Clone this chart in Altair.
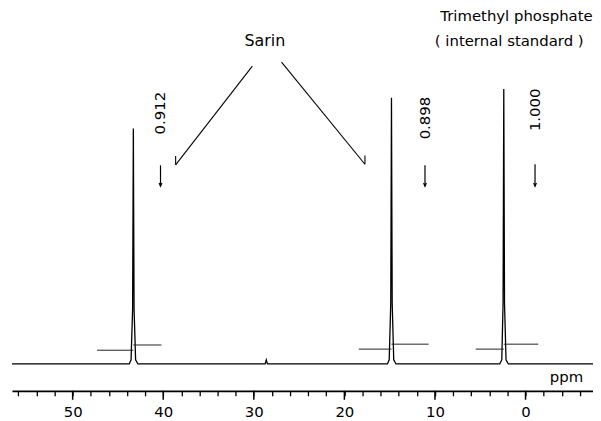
import altair as alt
import pandas as pd

# --- spectrum trace: chemical shift (ppm) and relative intensity (TMP peak = 100)
spec_ppm = [56.7, 43.75, 43.55, 43.38, 43.3, 43.22, 43.05, 42.8,
            28.75, 28.62, 28.5,
            15.25, 15.05, 14.88, 14.8, 14.72, 14.55, 14.3,
            2.85, 2.62, 2.48, 2.4, 2.32, 2.15, 1.9, -7.45]
spec_int = [0, 0, 1.5, 20, 85.6, 20, 1.5, 0,
            0, 1.5, 0,
            0, 1.5, 22, 96.8, 22, 1.5, 0,
            0, 1.5, 22, 100, 22, 1.5, 0, 0]

# --- integral step traces (start ppm, end ppm, level)
integ_start = [47.3, 43.3, 18.4, 14.8, 5.5, 2.4]
integ_end = [43.3, 40.2, 14.8, 10.7, 2.4, -1.4]
integ_level = [5.0, 6.9, 5.4, 7.2, 5.4, 7.2]

# --- relative integral values
ratio_text = ["0.912", "0.898", "1.000"]
ratio_ppm = [40.3, 11.1, -1.05]
ratio_level = [91.2, 89.4, 92.4]

# --- axis ticks
tick_values = [56, 54, 52, 50, 48, 46, 44, 42, 40, 38, 36, 34, 32, 30, 28, 26, 24,
               22, 20, 18, 16, 14, 12, 10, 8, 6, 4, 2, 0, -2, -4, -6]
major_ticks = [50, 40, 30, 20, 10, 0]

# --- Sarin pointer lines
sarin_x = [30.16, 26.94]
sarin_y = [108.3, 109.7]
sarin_x2 = [38.63, 17.73]
sarin_y2 = [72.4, 72.6]
sarin_head_top = [75.6, 75.8]

FONT = "DejaVu Sans"
XDOM = [56.7, -7.45]
YDOM = [-9.75, 128.9]
H = 384

spec = pd.DataFrame({"ppm": spec_ppm, "i": spec_int, "o": list(range(len(spec_ppm)))})
integ = pd.DataFrame({"ppm": integ_start, "ppm2": integ_end, "i": integ_level})
ratios = pd.DataFrame({"ppm": ratio_ppm, "i": ratio_level, "t": ratio_text})
arrows = pd.DataFrame({"ppm": ratio_ppm, "top": [72.2, 72.2, 72.6], "bot": [64.6, 64.6, 64.6]})
sarin = pd.DataFrame({"ppm": sarin_x, "i": sarin_y, "ppm2": sarin_x2, "i2": sarin_y2,
                      "head": sarin_head_top})
majors = pd.DataFrame({"ppm": major_ticks})

xscale = alt.Scale(domain=XDOM, nice=False, zero=False)
yscale = alt.Scale(domain=YDOM, nice=False, zero=False)

xaxis = alt.Axis(
    values=tick_values,
    labelExpr="datum.value % 10 === 0 ? datum.label : ''",
    tickSize=5,
    domainWidth=1.7, domainColor="black", tickColor="black", tickWidth=1.3,
    labelFont=FONT, labelFontSize=15, labelColor="black", labelPadding=9,
    labelFlush=False, labelOverlap=False, grid=False, title=None,
)

X = alt.X("ppm:Q", scale=xscale, axis=xaxis)
Y = alt.Y("i:Q", scale=yscale, axis=None)

line = alt.Chart(spec).mark_line(color="black", strokeWidth=1.3).encode(
    x=X, y=Y, order="o:Q")

integ_l = alt.Chart(integ).mark_rule(color="#222", strokeWidth=1).encode(
    x=X, x2="ppm2:Q", y=Y)

major_l = alt.Chart(majors).mark_rule(color="black", strokeWidth=1.5).encode(
    x=X, y=alt.value(H), y2=alt.value(H + 9))

ratio_t = alt.Chart(ratios).mark_text(
    angle=270, font=FONT, fontSize=15, color="black", align="center", baseline="middle"
).encode(x=X, y=Y, text="t:N")

arrow_shaft = alt.Chart(arrows).mark_rule(color="black", strokeWidth=1.2).encode(
    x=X, y=alt.Y("top:Q", scale=yscale, axis=None), y2="bot:Q")
arrow_head = alt.Chart(arrows).mark_point(
    shape="M -0.7 -1.7 L 0 0 L 0.7 -1.7", filled=False, color="black",
    strokeWidth=1.2, size=16, opacity=1
).encode(x=X, y=alt.Y("bot:Q", scale=yscale, axis=None))

sarin_lines = alt.Chart(sarin).mark_rule(color="black", strokeWidth=1.1).encode(
    x=X, y=Y, x2="ppm2:Q", y2="i2:Q")
sarin_heads = alt.Chart(sarin).mark_rule(color="black", strokeWidth=1.1).encode(
    x=alt.X("ppm2:Q", scale=xscale, axis=xaxis), y=alt.Y("i2:Q", scale=yscale, axis=None),
    y2="head:Q")

texts = pd.DataFrame({
    "ppm": [28.77, 1.0, 1.8, -6.36],
    "i": [117.3, 126.5, 117.3, -6.5],
    "t": ["Sarin", "Trimethyl phosphate", "( internal standard )", "ppm"],
    "a": ["center", "center", "center", "right"],
})
text_s = alt.Chart(texts[texts.t == "Sarin"]).mark_text(
    font=FONT, fontSize=16, color="black", align="center", baseline="middle"
).encode(x=X, y=Y, text="t:N")
text_c = alt.Chart(texts[(texts.a == "center") & (texts.t != "Sarin")]).mark_text(
    font=FONT, fontSize=15, color="black", align="center", baseline="middle"
).encode(x=X, y=Y, text="t:N")
text_r = alt.Chart(texts[texts.a == "right"]).mark_text(
    font=FONT, fontSize=15, color="black", align="right", baseline="alphabetic"
).encode(x=X, y=Y, text="t:N")

chart = alt.layer(
    line, integ_l, major_l, ratio_t, arrow_shaft, arrow_head, sarin_lines, sarin_heads,
    text_s, text_c, text_r
).properties(
    width=585, height=H,
    padding={"left": 4, "top": 0, "right": 0, "bottom": 29},
    autosize=alt.AutoSizeParams(type="none"),
    background="white",
).configure_view(stroke=None)

chart.save("out.html", embed_options={"renderer": "svg", "actions": False})
